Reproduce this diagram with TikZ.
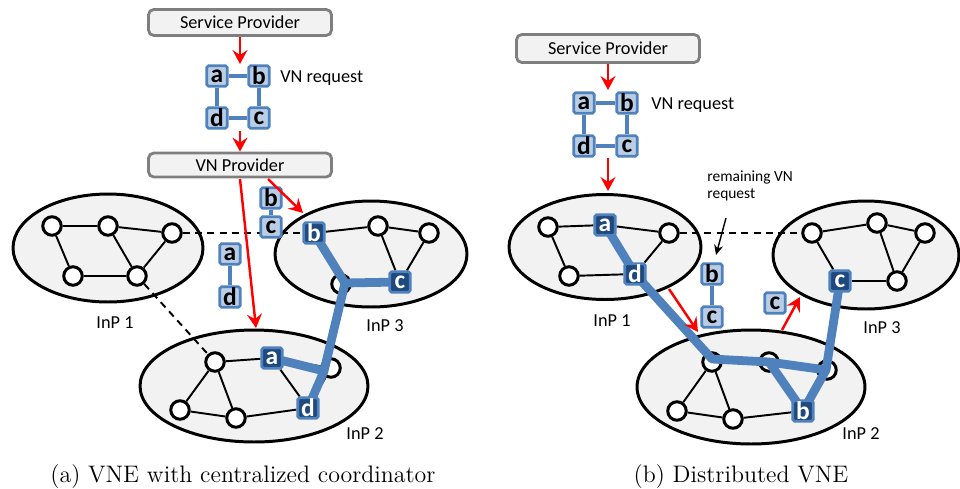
\documentclass[tikz,border=0pt]{standalone}
\usepackage{fontspec}
\setsansfont{Carlito}
\usetikzlibrary{arrows.meta}
\definecolor{boxfill}{HTML}{F2F2F2}
\definecolor{boxline}{HTML}{7F7F7F}
\definecolor{inpfill}{HTML}{F2F2F2}
\definecolor{mblue}{HTML}{4F81BD}
\definecolor{lblue}{HTML}{B9CDE5}
\definecolor{dblue}{HTML}{1F497D}
\pgfdeclarelayer{bg}
\pgfdeclarelayer{bluel}
\pgfdeclarelayer{front}
\pgfsetlayers{bg,main,bluel,front}
\tikzset{
  provbox/.style={draw=boxline, fill=boxfill, line width=1.6pt, rounded corners=3pt,
    minimum width=3.66cm, inner sep=0, font=\sffamily\fontsize{10.4}{12}\selectfont},
  inpell/.style={draw=black, fill=inpfill, line width=1.7pt},
  pn/.style={circle, draw=black, fill=white, line width=1.7pt, minimum size=0.37cm, inner sep=0},
  vsq/.style={rectangle, rounded corners=1pt, draw=mblue, fill=lblue, line width=1.5pt,
    minimum size=0.41cm, inner sep=0, text=black,
    font=\sffamily\bfseries\fontsize{14.5}{12}\selectfont},
  dsq/.style={vsq, fill=dblue, text=white},
  lnk/.style={draw=black, line width=1.1pt},
  dlnk/.style={lnk, dash pattern=on 4pt off 3pt},
  vlink/.style={draw=mblue, line width=2.2pt},
  emb/.style={draw=mblue, line width=5pt, line join=round, line cap=round},
  rarr/.style={draw=red, line width=1.4pt, -{Stealth[length=2.8mm, width=3mm, inset=1mm]}},
  karr/.style={draw=black, line width=0.8pt, -{Stealth[length=2mm, width=1.8mm]}},
  lbl/.style={font=\sffamily\fontsize{10.4}{12}\selectfont, inner sep=0},
  smalllbl/.style={font=\sffamily\fontsize{8.8}{9.6}\selectfont, inner sep=0},
  captxt/.style={font=\fontsize{13.6}{16}\selectfont, inner sep=0},
}
\begin{document}
\begin{tikzpicture}[x=0.02cm, y=-0.02cm]
\useasboundingbox (0,0) rectangle (960,488);

% ---------------- ellipses (background) ----------------
\begin{pgfonlayer}{bg}
\path[inpell] (108,248) ellipse [x radius=1.90cm, y radius=1.08cm];
\path[inpell] (371,254) ellipse [x radius=1.92cm, y radius=1.06cm];
\path[inpell] (254,386) ellipse [x radius=2.28cm, y radius=1.12cm];
\path[inpell] (605,247) ellipse [x radius=1.92cm, y radius=1.05cm];
\path[inpell] (866,255) ellipse [x radius=1.86cm, y radius=1.08cm];
\path[inpell] (751,387) ellipse [x radius=2.28cm, y radius=1.14cm];
\end{pgfonlayer}

% ================= LEFT PANEL =================
\node[provbox, minimum height=0.52cm] (sp1) at (240,22.5) {Service Provider};
\node[provbox, minimum height=0.48cm] (vp) at (240,165) {VN Provider};
\node[lbl, anchor=base west] (vr1) at (280,82) {VN request};
\node[lbl, anchor=base] (l1lab) at (115,328) {InP 1};
\node[lbl, anchor=base] (l3lab) at (385,331) {InP 3};
\node[lbl, anchor=base] (l2lab) at (365,439) {InP 2};

% physical nodes
\node[pn] (l1a) at (52,226) {};
\node[pn] (l1b) at (108,226) {};
\node[pn] (l1c) at (172,233) {};
\node[pn] (l1d) at (73,276) {};
\node[pn] (l1e) at (137,276) {};
\node[pn] (l3x) at (378,226) {};
\node[pn] (l3y) at (429,233) {};
\node[pn] (l3j) at (341,284) {};
\node[pn] (l2x) at (215,362) {};
\node[pn] (l2j) at (331,368) {};
\node[pn] (l2p) at (180,410) {};
\node[pn] (l2q) at (236,418) {};

\begin{pgfonlayer}{front}
\node[vsq] (qa) at (217,76) {a};
\node[vsq] (qb) at (259,76) {b};
\node[vsq] (qd) at (217,118) {d};
\node[vsq] (qc) at (259,118) {c};
\node[vsq] (tb) at (271,198) {b};
\node[vsq] (tc) at (271,227) {c};
\node[vsq] (ta) at (230,254) {a};
\node[vsq] (td) at (230,297) {d};
\node[dsq] (l3b) at (314,233) {b};
\node[dsq] (l3c) at (400,282) {c};
\node[dsq] (l2a) at (272,358) {a};
\node[dsq] (l2d) at (308,408) {d};
\end{pgfonlayer}

\coordinate (lj3) at (345,283);
\coordinate (lj2) at (324,371);
\coordinate (a1e) at (240,64);
\coordinate (a2s) at (240,131);
\coordinate (a3s) at (240,179);
\coordinate (a3e) at (256,328);
\coordinate (a4s) at (268,179);
\coordinate (a4e) at (303,213);

\begin{pgfonlayer}{bg}
\draw[lnk] (l1a) -- (l1b);
\draw[lnk] (l1b) -- (l1c);
\draw[lnk] (l1a) -- (l1d);
\draw[lnk] (l1d) -- (l1e);
\draw[lnk] (l1b) -- (l1e);
\draw[lnk] (l1c) -- (l1e);
\draw[lnk] (l3b) -- (l3x);
\draw[lnk] (l3x) -- (l3y);
\draw[lnk] (l3x) -- (l3c);
\draw[lnk] (l3y) -- (l3c);
\draw[lnk] (l3b) -- (l3j);
\draw[lnk] (l3j) -- (l3c);
\draw[lnk] (l2x) -- (l2a);
\draw[lnk] (l2x) -- (l2p);
\draw[lnk] (l2x) -- (l2q);
\draw[lnk] (l2p) -- (l2q);
\draw[lnk] (l2q) -- (l2d);
\draw[lnk] (l2a) -- (l2d);
\draw[lnk] (l2a) -- (l2j);
\draw[lnk] (l2j) -- (l2d);
\draw[dlnk] (l1c) -- (l3b);
\draw[dlnk] (l1e) -- (l2x);
\draw[vlink] (qa) -- (qb);
\draw[vlink] (qb) -- (qc);
\draw[vlink] (qc) -- (qd);
\draw[vlink] (qd) -- (qa);
\draw[vlink] (tb) -- (tc);
\draw[vlink] (ta) -- (td);
\end{pgfonlayer}

\begin{pgfonlayer}{bluel}
\draw[emb] (l3b.center) -- (lj3) -- (l3c.center);
\draw[emb] (lj3) -- (lj2);
\draw[emb] (l2a.center) -- (lj2) -- (l2d.center);
\end{pgfonlayer}

\begin{pgfonlayer}{front}
\draw[rarr] (sp1.south) -- (a1e);
\draw[rarr] (a2s) -- (vp.north);
\draw[rarr] (a3s) -- (a3e);
\draw[rarr] (a4s) -- (a4e);
\end{pgfonlayer}

% ================= RIGHT PANEL =================
\node[provbox, minimum height=0.56cm] (sp2) at (608,48.5) {Service Provider};
\node[lbl, anchor=base west] (vr2) at (651,109) {VN request};
\node[smalllbl, anchor=base west, align=left] (rem) at (707,198) {remaining VN\\request};
\node[lbl, anchor=base] (r1lab) at (612,326) {InP 1};
\node[lbl, anchor=base] (r3lab) at (882,333) {InP 3};
\node[lbl, anchor=base] (r2lab) at (861,439) {InP 2};

\node[pn] (r1a) at (548,227) {};
\node[pn] (r1c) at (669,233) {};
\node[pn] (r1d) at (569,276) {};
\node[pn] (r3a) at (812,233) {};
\node[pn] (r3b) at (877,223) {};
\node[pn] (r3c) at (925,233) {};
\node[pn] (r3d) at (897,281) {};
\node[pn] (r2a) at (712,362) {};
\node[pn] (r2b) at (769,362) {};
\node[pn] (r2c) at (827,370) {};
\node[pn] (r2p) at (677,411) {};
\node[pn] (r2q) at (733,419) {};

\begin{pgfonlayer}{front}
\node[vsq] (qa2) at (584,103) {a};
\node[vsq] (qb2) at (627,103) {b};
\node[vsq] (qd2) at (584,146) {d};
\node[vsq] (qc2) at (627,146) {c};
\node[vsq] (sb2) at (712,274) {b};
\node[vsq] (sc2) at (712,317) {c};
\node[vsq] (sc3) at (775,303) {c};
\node[dsq] (r1sa) at (605,225) {a};
\node[dsq] (r1sd) at (635,274) {d};
\node[dsq] (r3sc) at (840,281) {c};
\node[dsq] (r2sb) at (803,411) {b};
\end{pgfonlayer}

\coordinate (rj1) at (712,359);
\coordinate (rj2) at (826,370);
\coordinate (b1e) at (608,90);
\coordinate (b2s) at (608,158);
\coordinate (b2e) at (608,191);
\coordinate (b3s) at (669,289);
\coordinate (b3e) at (698,332);
\coordinate (b4s) at (782,330);
\coordinate (b4e) at (800,297);
\coordinate (k1s) at (726,218);
\coordinate (k1e) at (716,255);

\begin{pgfonlayer}{bg}
\draw[lnk] (r1a) -- (r1sa);
\draw[lnk] (r1sa) -- (r1c);
\draw[lnk] (r1a) -- (r1d);
\draw[lnk] (r1d) -- (r1sd);
\draw[lnk] (r1sd) -- (r1c);
\draw[lnk] (r1sa) -- (r1sd);
\draw[lnk] (r3a) -- (r3b);
\draw[lnk] (r3b) -- (r3c);
\draw[lnk] (r3a) -- (r3sc);
\draw[lnk] (r3sc) -- (r3d);
\draw[lnk] (r3b) -- (r3d);
\draw[lnk] (r3c) -- (r3d);
\draw[lnk] (r2a) -- (r2b);
\draw[lnk] (r2b) -- (r2c);
\draw[lnk] (r2a) -- (r2p);
\draw[lnk] (r2a) -- (r2q);
\draw[lnk] (r2p) -- (r2q);
\draw[lnk] (r2q) -- (r2sb);
\draw[lnk] (r2b) -- (r2sb);
\draw[lnk] (r2sb) -- (r2c);
\draw[dlnk] (r1c) -- (r3a);
\draw[vlink] (qa2) -- (qb2);
\draw[vlink] (qb2) -- (qc2);
\draw[vlink] (qc2) -- (qd2);
\draw[vlink] (qd2) -- (qa2);
\draw[vlink] (sb2) -- (sc2);
\end{pgfonlayer}

\begin{pgfonlayer}{bluel}
\draw[emb] (r1sa.center) -- (r1sd.center) -- (rj1) -- (r2b.center) -- (rj2) -- (r3sc.center);
\draw[emb] (r2b.center) -- (r2sb.center) -- (rj2);
\end{pgfonlayer}

\begin{pgfonlayer}{front}
\draw[rarr] (sp2.south) -- (b1e);
\draw[rarr] (b2s) -- (b2e);
\draw[rarr] (b3s) -- (b3e);
\draw[rarr] (b4s) -- (b4e);
\draw[karr] (k1s) -- (k1e);
\end{pgfonlayer}

% captions
\node[captxt, anchor=base] (capa) at (243,482) {(a) VNE with centralized coordinator};
\node[captxt, anchor=base] (capb) at (741,482) {(b) Distributed VNE};
\end{tikzpicture}
\end{document}
